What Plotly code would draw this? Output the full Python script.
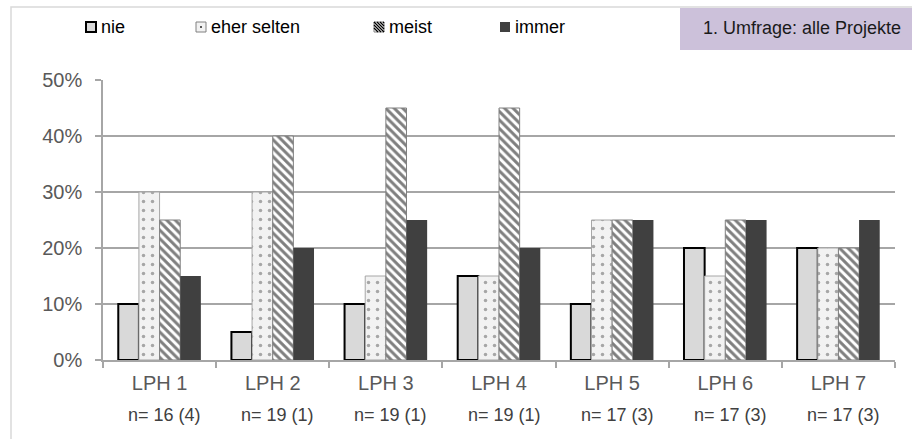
import plotly.graph_objects as go

# Survey answers per work phase (percent of respondents)
categories = ["LPH 1", "LPH 2", "LPH 3", "LPH 4", "LPH 5", "LPH 6", "LPH 7"]
sample_sizes = ["n= 16 (4)", "n= 19 (1)", "n= 19 (1)", "n= 19 (1)",
                "n= 17 (3)", "n= 17 (3)", "n= 17 (3)"]
nie = [10, 5, 10, 15, 10, 20, 20]
eher_selten = [30, 30, 15, 15, 25, 15, 20]
meist = [25, 40, 45, 45, 25, 25, 20]
immer = [15, 20, 25, 20, 25, 25, 25]
y_ticks = [0, 10, 20, 30, 40, 50]
y_tick_text = [f"{v}%" for v in y_ticks]
title_box = "1. Umfrage: alle Projekte"

FONT = "Liberation Sans, Arial, sans-serif"
W, H = 912, 439
L, R, T, B = 103, 17, 80, 79
PW, PH = W - L - R, H - T - B


def px(x):
    return (x - L) / PW


def py(y):
    return (H - B - y) / PH


fig = go.Figure()
fig.add_bar(name="nie", x=categories, y=nie,
            marker=dict(color="#d9d9d9", line=dict(color="#000000", width=2)))
fig.add_bar(name="eher selten", x=categories, y=eher_selten,
            marker=dict(color="#f2f2f2",
                        pattern=dict(shape=".", fgcolor="#595959", bgcolor="#f2f2f2",
                                     size=9, solidity=0.12),
                        line=dict(color="#a6a6a6", width=1)))
fig.add_bar(name="meist", x=categories, y=meist,
            marker=dict(color="#ffffff",
                        pattern=dict(shape="\\", fgcolor="#000000", bgcolor="#ffffff",
                                     size=6, solidity=0.5),
                        line=dict(color="#808080", width=1)))
fig.add_bar(name="immer", x=categories, y=immer,
            marker=dict(color="#404040", line=dict(width=0)))

shapes = []
annotations = []

# outer chart frame
shapes.append(dict(type="rect", xref="paper", yref="paper",
                   x0=px(11), x1=px(W + 20), y0=py(H + 20), y1=py(7),
                   line=dict(color="#d9d9d9", width=1.5), fillcolor="rgba(0,0,0,0)",
                   layer="below"))
# title box
shapes.append(dict(type="rect", xref="paper", yref="paper",
                   x0=px(680), x1=px(W + 5), y0=py(50), y1=py(8),
                   line=dict(width=0), fillcolor="#ccc1da"))
annotations.append(dict(text=title_box, xref="paper", yref="paper",
                        x=px(802), y=py(28), xanchor="center", yanchor="middle",
                        showarrow=False,
                        font=dict(family=FONT, size=18, color="#1a1a1a")))

# legend swatches
legend_x = [86, 196, 374, 500]
names = ["nie", "eher selten", "meist", "immer"]
sy0, sy1 = 22, 32
for i, (lx, nm) in enumerate(zip(legend_x, names)):
    x0, x1 = px(lx), px(lx + 10)
    y0, y1 = py(sy1), py(sy0)
    if i == 0:
        shapes.append(dict(type="rect", xref="paper", yref="paper", x0=x0, x1=x1,
                           y0=y0, y1=y1, fillcolor="#d9d9d9",
                           line=dict(color="#000000", width=2)))
    elif i == 1:
        shapes.append(dict(type="rect", xref="paper", yref="paper", x0=x0, x1=x1,
                           y0=y0, y1=y1, fillcolor="#f2f2f2",
                           line=dict(color="#808080", width=1)))
        shapes.append(dict(type="rect", xref="paper", yref="paper",
                           x0=px(lx + 4), x1=px(lx + 6), y0=py(sy0 + 6), y1=py(sy0 + 4),
                           fillcolor="#595959", line=dict(width=0)))
    elif i == 2:
        shapes.append(dict(type="rect", xref="paper", yref="paper", x0=x0, x1=x1,
                           y0=y0, y1=y1, fillcolor="#ffffff",
                           line=dict(color="#808080", width=1)))
        for k in range(-6, 10, 3):
            xa, xb = lx + k, lx + k + 10
            ya, yb = sy0, sy1
            # clip diagonal stripe to the square
            if xa < lx:
                ya += lx - xa
                xa = lx
            if xb > lx + 10:
                yb -= xb - (lx + 10)
                xb = lx + 10
            if ya < yb:
                shapes.append(dict(type="line", xref="paper", yref="paper",
                                   x0=px(xa), y0=py(ya), x1=px(xb), y1=py(yb),
                                   line=dict(color="#000000", width=1.2)))
    else:
        shapes.append(dict(type="rect", xref="paper", yref="paper", x0=x0, x1=x1,
                           y0=y0, y1=y1, fillcolor="#404040",
                           line=dict(width=0)))
    annotations.append(dict(text=nm, xref="paper", yref="paper",
                            x=px(lx + 13), y=py(27), xanchor="left", yanchor="middle",
                            showarrow=False,
                            font=dict(family=FONT, size=18, color="#000000")))

# sample sizes under each category
for c, n in zip(categories, sample_sizes):
    annotations.append(dict(text=n, xref="x", yref="paper", x=c, y=0,
                            xanchor="center", yanchor="middle", yshift=-55, xshift=5,
                            showarrow=False,
                            font=dict(family=FONT, size=18, color="#404040")))

fig.update_layout(
    width=W, height=H,
    margin=dict(l=L, r=R, t=T, b=B, pad=0),
    paper_bgcolor="#ffffff", plot_bgcolor="#ffffff",
    barmode="group", bargap=0.27, bargroupgap=0,
    showlegend=False,
    shapes=shapes, annotations=annotations,
    font=dict(family=FONT),
)
fig.update_xaxes(
    type="category", showline=True, linecolor="#a6a6a6", linewidth=1.5,
    ticks="outside", tickson="boundaries", ticklen=6, tickcolor="#a6a6a6",
    tickwidth=1.5, showgrid=False, ticklabelstandoff=4,
    tickfont=dict(family=FONT, size=20, color="#595959"),
)
fig.update_yaxes(
    range=[0, 50], tickmode="array", tickvals=y_ticks, ticktext=y_tick_text,
    showline=True, linecolor="#a6a6a6", linewidth=1.5,
    ticks="outside", ticklen=6, tickcolor="#a6a6a6", tickwidth=1.5,
    showgrid=True, gridcolor="#a6a6a6", gridwidth=1.5, zeroline=False,
    ticklabelstandoff=9,
    tickfont=dict(family=FONT, size=20, color="#595959"),
)

fig.write_html("out.html")
